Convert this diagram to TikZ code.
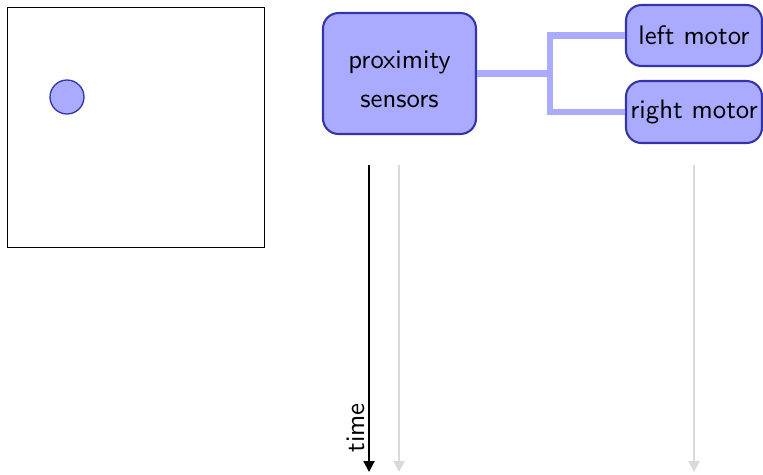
\documentclass[tikz,border=0pt]{standalone}
\usetikzlibrary{arrows.meta}
\definecolor{boxfill}{RGB}{170,170,255}
\definecolor{boxline}{RGB}{51,51,170}
\definecolor{laneline}{RGB}{217,217,217}
\begin{document}
\begin{tikzpicture}[x=0.385pt,y=-0.385pt,
  every node/.style={font=\sffamily\fontsize{10.3}{12.4}\selectfont},
  module/.style={draw=boxline,fill=boxfill,line width=0.8pt,rounded corners=6pt,align=center,inner sep=0pt},
  link/.style={draw=boxfill,line width=2.6pt},
  lane/.style={draw=laneline,line width=0.8pt,-{Triangle[length=4.2pt,width=4.2pt]}},
  timeline/.style={draw=black,line width=0.8pt,-{Triangle[length=4.2pt,width=4.2pt]}}]
\useasboundingbox (0,0) rectangle (763,474);

% arena with the robot
\draw[line width=0.35pt] (7,7) rectangle (264,247);
\node[circle,draw=boxline,fill=boxfill,line width=0.5pt,minimum size=34*0.385pt,inner sep=0pt] (robot) at (67,97) {};

% modules
\node[module,minimum width=153*0.385pt,minimum height=121*0.385pt,text width=150*0.385pt] (prox) at (399.5,73.5) {\rule{0pt}{11pt}proximity\\[2.6pt]sensors};
\node[module,minimum width=136*0.385pt,minimum height=61*0.385pt] (lm) at (694,35.5) {left motor};
\node[module,minimum width=136*0.385pt,minimum height=62*0.385pt] (rm) at (694,112) {right motor};

% wiring
\coordinate (j) at (550,73.5);
\draw[link] (prox.east) -- (j);
\draw[link] (lm.west) -| (j) |- (rm.west);

% time axes
\coordinate (t0) at (369,165);
\coordinate (t1) at (369,472);
\coordinate (p0) at (399,165);
\coordinate (p1) at (399,472);
\coordinate (m0) at (694,165);
\coordinate (m1) at (694,472);
\draw[lane] (p0) -- (p1);
\draw[lane] (m0) -- (m1);
\draw[timeline] (t0) -- (t1);
\node[rotate=90,anchor=south west,inner sep=1.5pt] (tlabel) at (369,457) {time};
\end{tikzpicture}
\end{document}
